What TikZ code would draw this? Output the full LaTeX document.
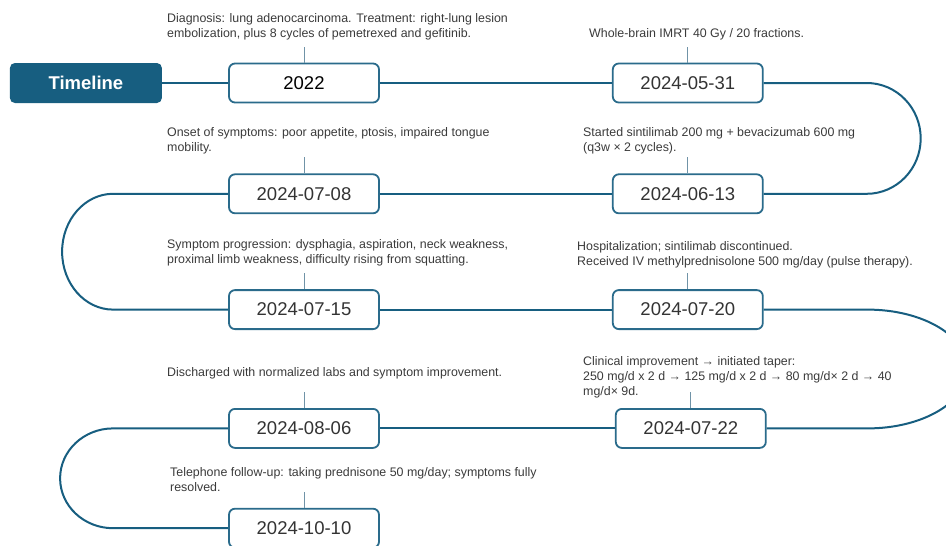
\documentclass[tikz,border=0pt]{standalone}
\usepackage{fontspec}
\setmainfont{Liberation Sans}
\usetikzlibrary{positioning}
\definecolor{lineblue}{HTML}{175E80}
\definecolor{boxblue}{HTML}{2A6B8B}
\definecolor{tickblue}{HTML}{7093A7}
\definecolor{datetext}{HTML}{333333}
\definecolor{notetext}{HTML}{3A3A3A}
\begin{document}
\begin{tikzpicture}[x=1pt,y=1pt,
 datebox/.style={draw=boxblue,line width=1.8pt,rounded corners=6pt,fill=white,minimum width=150pt,minimum height=39pt,inner sep=0pt,text=datetext,font=\fontsize{18.5}{20}\selectfont},
 titlebox/.style={fill=lineblue,rounded corners=5pt,minimum width=152pt,minimum height=40pt,inner sep=0pt,text=white,font=\fontsize{18.5}{20}\selectfont\bfseries},
 note/.style={anchor=base west,align=left,inner sep=0pt,text=notetext,font=\fontsize{12.4}{15}\selectfont},
 track/.style={draw=lineblue,line width=2pt},
 tick/.style={draw=tickblue,line width=1pt}]
\useasboundingbox (0,0) rectangle (946,-546);
\node[datebox,text=black] (d2022) at (304,-83) {2022};
\node[titlebox,left=66pt of d2022] (timeline) {Timeline};
\node[datebox,right=232pt of d2022] (d0531) {2024-05-31};
\node[datebox,below=70pt of d0531] (d0613) {2024-06-13};
\node[datebox,left=232pt of d0613] (d0708) {2024-07-08};
\node[datebox,below=75pt of d0708] (d0715) {2024-07-15};
\node[datebox,right=232pt of d0715] (d0720) {2024-07-20};
\node[datebox,below=78pt of d0715] (d0806) {2024-08-06};
\node[datebox,right=235pt of d0806] (d0722) {2024-07-22};
\node[datebox,below=59pt of d0806] (d1010) {2024-10-10};
\node[note] (n2022) at (167,-37) {Diagnosis: lung adenocarcinoma. Treatment: right-lung lesion\\embolization, plus 8 cycles of pemetrexed and gefitinib.};
\node[note] (n0531) at (589,-37) {Whole-brain IMRT 40 Gy / 20 fractions.};
\node[note] (n0708) at (167,-151) {Onset of symptoms: poor appetite, ptosis, impaired tongue\\mobility.};
\node[note] (n0613) at (583,-151) {Started sintilimab 200 mg + bevacizumab 600 mg\\(q3w × 2 cycles).};
\node[note] (n0715) at (167,-263) {Symptom progression: dysphagia, aspiration, neck weakness,\\proximal limb weakness, difficulty rising from squatting.};
\node[note] (n0720) at (577,-265) {Hospitalization; sintilimab discontinued.\\Received IV methylprednisolone 500 mg/day (pulse therapy).};
\node[note] (n0806) at (167,-376) {Discharged with normalized labs and symptom improvement.};
\node[note] (n0722) at (583,-395) {Clinical improvement → initiated taper:\\250 mg/d x 2 d → 125 mg/d x 2 d → 80 mg/d× 2 d → 40\\mg/d× 9d.};
\node[note] (n1010) at (170,-491) {Telephone follow-up: taking prednisone 50 mg/day; symptoms fully\\resolved.};
\draw[track] (timeline) -- (d2022);
\draw[track] (d2022) -- (d0531);
\draw[track] (d0531.east) -- ++(103,0) arc[start angle=90,end angle=-90,x radius=54pt,y radius=55.4pt] -- (d0613.east);
\draw[track] (d0613) -- (d0708);
\draw[track] (d0708.west) -- ++(-115,0) arc[start angle=90,end angle=270,x radius=51pt,y radius=57.9pt] -- (d0715.west);
\draw[track] (d0715) -- (d0720);
\draw[track] (d0720.east) -- ++(104,0) arc[start angle=90,end angle=-90,x radius=100pt,y radius=59.4pt] -- (d0722.east);
\draw[track] (d0722) -- (d0806);
\draw[track] (d0806.west) -- ++(-115,0) arc[start angle=90,end angle=270,x radius=53pt,y radius=49.9pt] -- (d1010.west);
\foreach \d in {d2022,d0531,d0613,d0708,d0715,d0720,d0722,d0806,d1010}
 \draw[tick] (\d.north) -- ++(0,16);
\end{tikzpicture}
\end{document}
